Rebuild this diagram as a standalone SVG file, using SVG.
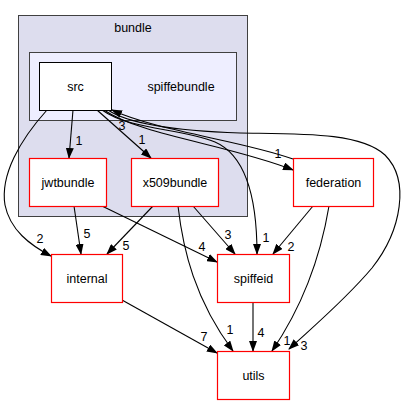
<svg xmlns="http://www.w3.org/2000/svg" width="407" height="404" viewBox="0 0 407 404">
<defs>
<style>
text{font-family:"Liberation Sans",Arial,sans-serif;font-size:12.5px;fill:#000;text-anchor:middle}
.node{fill:#fff;stroke:#ff0000;stroke-width:1.2}
.src{fill:#fff;stroke:#000;stroke-width:1}
.c1{fill:#ddddee;stroke:#404040;stroke-width:1}
.c2{fill:#eeeeff;stroke:#404040;stroke-width:1}
.e{fill:none;stroke:#000;stroke-width:1.1;marker-end:url(#ah)}
</style>
<marker id="ah" markerUnits="userSpaceOnUse" markerWidth="11" markerHeight="8" refX="10" refY="4" orient="auto">
<path d="M0,0 L11,4 L0,8 z" fill="#000"/>
</marker>
</defs>
<rect width="407" height="404" fill="#fff"/>
<g id="cluster-bundle">
<rect class="c1" x="18.5" y="15.5" width="229" height="201"/>
<text x="133" y="31.5">bundle</text>
</g>
<g id="cluster-spiffebundle">
<rect class="c2" x="29.5" y="52.5" width="207" height="68"/>
<text x="181" y="90.5">spiffebundle</text>
</g>
<g id="edges">
<path class="e" d="M73,110 L69,158"/>
<text x="79" y="144.5">1</text>
<path class="e" d="M97,110 L151,158"/>
<text x="142" y="143.5">1</text>
<path class="e" d="M104,110 C140,135 230,145 293,170"/>
<text x="278" y="157.5">1</text>
<path class="e" d="M293,159 C240,140 160,132 112,110"/>
<text x="122" y="129.5">3</text>
<path class="e" d="M47,110 C20,140 0,175 5,205 C10,230 30,245 51,256"/>
<text x="40" y="242.5">2</text>
<path class="e" d="M102,110 C130,130 180,128 215,142 C245,155 257,195 257,254"/>
<text x="266" y="241.5">1</text>
<path class="e" d="M108,110 C130,125 180,131 240,133 C300,134 360,132 385,155 C410,180 402,230 372,268 C345,300 315,325 289,349"/>
<text x="304" y="349.5">3</text>
<path class="e" d="M74,206 L81,254"/>
<text x="87" y="238">5</text>
<path class="e" d="M102,206 L217,262"/>
<text x="202" y="250.5">4</text>
<path class="e" d="M153,206 L107,254"/>
<text x="126" y="249.5">5</text>
<path class="e" d="M193,206 L235,254"/>
<text x="228" y="238.5">3</text>
<path class="e" d="M178,206 C183,250 195,300 233,351"/>
<text x="230" y="333.5">1</text>
<path class="e" d="M313,206 L273,254"/>
<text x="291" y="250.5">2</text>
<path class="e" d="M329,206 C320,260 300,310 272,351"/>
<text x="287" y="344.5">1</text>
<path class="e" d="M253,302 L253,351"/>
<text x="261" y="336.5">4</text>
<path class="e" d="M122,300 L217,353"/>
<text x="204" y="340.5">7</text>
</g>
<g id="node-src">
<rect class="src" x="39.5" y="62.5" width="72" height="48"/>
<text x="75.5" y="91">src</text>
</g>
<g id="node-jwtbundle">
<rect class="node" x="29.5" y="158.5" width="77" height="48"/>
<text x="68" y="187">jwtbundle</text>
</g>
<g id="node-x509bundle">
<rect class="node" x="131.5" y="158.5" width="87" height="48"/>
<text x="175" y="187">x509bundle</text>
</g>
<g id="node-federation">
<rect class="node" x="293.5" y="158.5" width="80" height="48"/>
<text x="333.5" y="187">federation</text>
</g>
<g id="node-internal">
<rect class="node" x="51.5" y="254.5" width="71" height="48"/>
<text x="87" y="283">internal</text>
</g>
<g id="node-spiffeid">
<rect class="node" x="217.5" y="254.5" width="72" height="48"/>
<text x="253.5" y="283">spiffeid</text>
</g>
<g id="node-utils">
<rect class="node" x="217.5" y="351.5" width="72" height="48"/>
<text x="253.5" y="380">utils</text>
</g>
</svg>
